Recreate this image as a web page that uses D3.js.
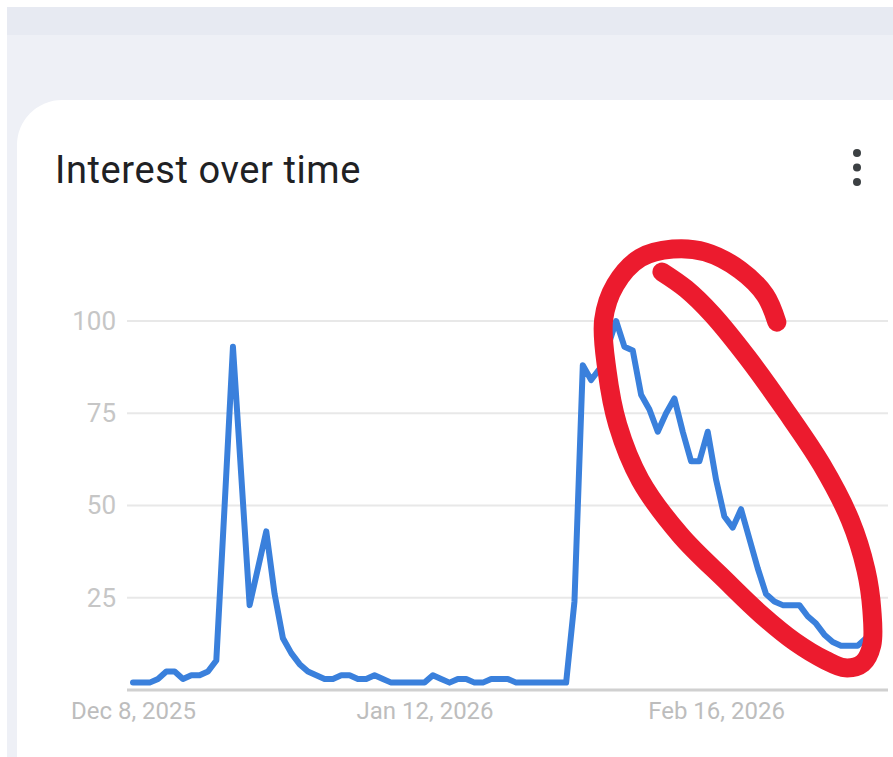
<!DOCTYPE html>
<html>
<head>
<meta charset="utf-8">
<script src="https://cdn.jsdelivr.net/npm/d3@7"></script>
<style>
  html, body { margin: 0; padding: 0; background: #ffffff; }
  svg { display: block; }
</style>
</head>
<body>
<div id="chart"></div>
<script>
const startDate = "2025-12-08";
const interest = [
  2, 2, 2, 3, 5, 5, 3, 4, 4, 5,
  8, 50, 93, 58, 23, 33, 43, 26, 14, 10,
  7, 5, 4, 3, 3, 4, 4, 3, 3, 4,
  3, 2, 2, 2, 2, 2, 4, 3, 2, 3,
  3, 2, 2, 3, 3, 3, 2, 2, 2, 2,
  2, 2, 2, 24, 88, 84, 87, 93, 100, 93,
  92, 80, 76, 70, 75, 79, 70, 62, 62, 70,
  57, 47, 44, 49, 41, 33, 26, 24, 23, 23,
  23, 20, 18, 15, 13, 12, 12, 12, 14
];
const xTickDates = ["2025-12-08", "2026-01-12", "2026-02-16"];
const yTicks = [25, 50, 75, 100];

// cercle rouge dessiné à la main : [jours depuis le début, valeur]
const scribble = [
  [77.3, 99.7], [75.9, 107.0], [72.9, 113.8], [68.7, 118.7], [64.8, 119.5],
  [60.9, 117.1], [57.9, 109.8], [56.5, 100.3], [56.9, 86.7], [58.2, 71.8],
  [60.9, 56.9], [65.7, 42.0], [71.1, 29.8], [75.5, 20.3], [79.5, 13.0],
  [83.1, 8.1], [85.5, 6.0], [87.6, 7.3], [88.7, 12.2], [88.7, 21.7],
  [88.0, 32.5], [86.1, 46.1], [82.7, 61.0], [78.3, 75.9], [73.8, 90.0],
  [69.5, 101.9], [66.4, 108.7], [63.5, 113.3]
];

const width = 893;
const height = 757;
const DAY = 864e5;

const start = new Date(startDate + "T00:00:00Z");
const data = interest.map((v, i) => ({ date: new Date(start.getTime() + i * DAY), value: v }));

const svg = d3.select("#chart")
  .append("svg")
  .attr("width", width)
  .attr("height", height);

// fond de l'appli
svg.append("rect").attr("x", 7).attr("y", 7).attr("width", width).attr("height", height)
  .attr("fill", "#eef0f6");
svg.append("rect").attr("x", 7).attr("y", 7).attr("width", width).attr("height", 28)
  .attr("fill", "#e7eaf2");

// carte blanche
svg.append("rect")
  .attr("x", 17).attr("y", 100)
  .attr("width", width + 40).attr("height", height)
  .attr("rx", 45).attr("ry", 45)
  .attr("fill", "#ffffff");

// titre
svg.append("text")
  .attr("x", 55).attr("y", 183)
  .style("font-family", "Roboto, 'Noto Sans', sans-serif")
  .style("font-size", "38px")
  .style("letter-spacing", "0.6px")
  .attr("fill", "#202124")
  .text("Interest over time");

// menu (trois points)
svg.selectAll("circle.dot")
  .data([0, 1, 2])
  .join("circle")
  .attr("class", "dot")
  .attr("cx", 857)
  .attr("cy", d => 153 + d * 14.5)
  .attr("r", 4)
  .attr("fill", "#3c4043");

// échelles
const x = d3.scaleUtc()
  .domain([start, data[data.length - 1].date])
  .range([133, 866]);

const y = d3.scaleLinear()
  .domain([0, 100])
  .range([690, 321]);

// grille horizontale
svg.append("g")
  .selectAll("line")
  .data(yTicks)
  .join("line")
  .attr("x1", 127).attr("x2", 888)
  .attr("y1", d => y(d)).attr("y2", d => y(d))
  .attr("stroke", "#e8e8e8")
  .attr("stroke-width", 2);

// axe Y
const yAxis = svg.append("g")
  .attr("transform", "translate(116,0)")
  .call(d3.axisLeft(y).tickValues(yTicks).tickSize(0).tickPadding(0));
yAxis.select(".domain").remove();
yAxis.selectAll("text")
  .style("font-family", "Roboto, 'Noto Sans', sans-serif")
  .style("font-size", "26px")
  .attr("fill", "#c6c6c6");

// ligne de base
svg.append("line")
  .attr("x1", 127).attr("x2", 888)
  .attr("y1", y(0)).attr("y2", y(0))
  .attr("stroke", "#d0d0d0")
  .attr("stroke-width", 3);

// axe X
const xAxis = svg.append("g")
  .attr("transform", `translate(0,${y(0)})`)
  .call(d3.axisBottom(x)
    .tickValues(xTickDates.map(d => new Date(d + "T00:00:00Z")))
    .tickFormat(d3.utcFormat("%b %-d, %Y"))
    .tickSize(0)
    .tickPadding(12));
xAxis.select(".domain").remove();
xAxis.selectAll("text")
  .style("font-family", "Roboto, 'Noto Sans', sans-serif")
  .style("font-size", "24px")
  .attr("fill", "#bdbdbd");

// courbe d'intérêt
const line = d3.line()
  .x(d => x(d.date))
  .y(d => y(d.value));

svg.append("path")
  .datum(data)
  .attr("d", line)
  .attr("fill", "none")
  .attr("stroke", "#3a80dc")
  .attr("stroke-width", 6)
  .attr("stroke-linejoin", "round")
  .attr("stroke-linecap", "round");

// annotation rouge
const scribbleLine = d3.line()
  .curve(d3.curveCatmullRom.alpha(0.5))
  .x(d => x(new Date(start.getTime() + d[0] * DAY)))
  .y(d => y(d[1]));

svg.append("path")
  .datum(scribble)
  .attr("d", scribbleLine)
  .attr("fill", "none")
  .attr("stroke", "#ec1b2e")
  .attr("stroke-width", 19)
  .attr("stroke-linejoin", "round")
  .attr("stroke-linecap", "round");
</script>
</body>
</html>
